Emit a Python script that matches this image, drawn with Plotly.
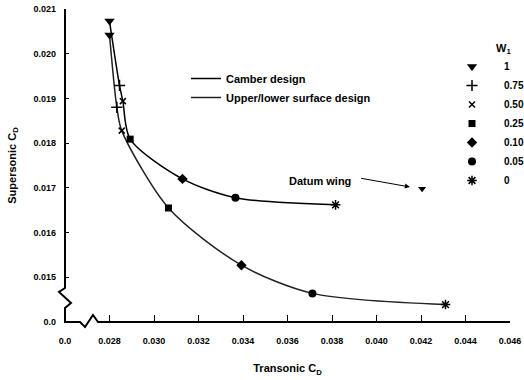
import plotly.graph_objects as go

# ---- data ----
w_labels = ["1", "0.75", "0.50", "0.25", "0.10", "0.05", "0"]
w_symbols = ["triangle-down", "cross-thin", "x-thin", "square", "diamond", "circle", "asterisk"]
w_sizes = [9, 8, 6, 7, 8, 8, 8]

camber_x = [0.02800, 0.02845, 0.02860, 0.02893, 0.03128, 0.03366, 0.03816]
camber_y = [0.02073, 0.01929, 0.01894, 0.01809, 0.01720, 0.01678, 0.01662]

surface_x = [0.02800, 0.02833, 0.02855, 0.03065, 0.03393, 0.03712, 0.04310]
surface_y = [0.02042, 0.01880, 0.01828, 0.01655, 0.01527, 0.01464, 0.01439]

datum_x = [0.04205]
datum_y = [0.01698]

x_tickvals = [0.026, 0.028, 0.030, 0.032, 0.034, 0.036, 0.038, 0.040, 0.042, 0.044, 0.046]
x_ticktext = ["0.0", "0.028", "0.030", "0.032", "0.034", "0.036", "0.038", "0.040", "0.042", "0.044", "0.046"]
y_tickvals = [0.014, 0.015, 0.016, 0.017, 0.018, 0.019, 0.020, 0.021]
y_ticktext = ["0.0", "0.015", "0.016", "0.017", "0.018", "0.019", "0.020", "0.021"]

# ---- layout geometry ----
W, H = 524, 380
ML, MR, MT, MB = 65, 14, 9, 58
PW, PH = W - ML - MR, H - MT - MB

def px(x):
    return (x - ML) / PW

def py(y):
    return (H - MB - y) / PH

FONT = "Liberation Sans, Arial, sans-serif"

fig = go.Figure()

fig.add_trace(go.Scatter(
    x=camber_x, y=camber_y, mode="lines", name="Camber design",
    line=dict(color="black", width=1.5, shape="spline", smoothing=0.8),
    legend="legend",
))
fig.add_trace(go.Scatter(
    x=surface_x, y=surface_y, mode="lines", name="Upper/lower surface design",
    line=dict(color="#222", width=1.5, shape="spline", smoothing=0.8),
    legend="legend",
))

for i, lab in enumerate(w_labels):
    thin = w_symbols[i] in ("cross-thin", "x-thin", "asterisk")
    fig.add_trace(go.Scatter(
        x=[camber_x[i], surface_x[i]], y=[camber_y[i], surface_y[i]],
        mode="markers", name=lab, legend="legend2",
        marker=dict(symbol=w_symbols[i], size=w_sizes[i], color="black",
                    line=dict(color="black", width=1.5 if thin else 0)),
    ))

fig.add_trace(go.Scatter(
    x=datum_x, y=datum_y, mode="markers", showlegend=False,
    marker=dict(symbol="triangle-down", size=7, color="black"),
))

# axis lines with break marks (decoration)
pts = [(65, 9), (65, 288), (59, 292), (71, 303), (65, 308), (65, 322),
       (80, 322), (85, 327), (93, 315), (98, 322), (510, 322)]
path = "M " + " L ".join(f"{px(a):.5f},{py(b):.5f}" for a, b in pts)
fig.add_shape(type="path", path=path, xref="paper", yref="paper",
              line=dict(color="black", width=2))

fig.add_annotation(
    x=0.04150, y=0.01702, ax=0.03924, ay=0.01722, axref="x", ayref="y",
    xref="x", yref="y", text="", showarrow=True, arrowhead=2, arrowsize=1,
    arrowwidth=1, arrowcolor="black")
fig.add_annotation(
    x=0.03744, y=0.01716, xref="x", yref="y", text="Datum wing", showarrow=False,
    font=dict(family=FONT, size=11, color="black", weight="bold"))

# title of the W1 marker legend
fig.add_annotation(
    x=px(503), y=py(49), xref="paper", yref="paper", text="W<sub>1</sub>",
    showarrow=False, xanchor="center", yanchor="middle",
    font=dict(family=FONT, size=11, color="black", weight="bold"))

fig.update_layout(
    width=W, height=H, margin=dict(l=ML, r=MR, t=MT, b=MB, autoexpand=False),
    paper_bgcolor="white", plot_bgcolor="white",
    font=dict(family=FONT, color="black"),
    legend=dict(x=px(186), y=py(64), xanchor="left", yanchor="top",
                font=dict(family=FONT, size=11, weight="bold"),
                bgcolor="rgba(0,0,0,0)", itemwidth=30, tracegroupgap=0),
    legend2=dict(x=px(440), y=py(52), xanchor="left", yanchor="top",
                 font=dict(family=FONT, size=10, weight="bold"),
                 bgcolor="rgba(0,0,0,0)", itemwidth=54, tracegroupgap=0),
    xaxis=dict(range=[0.026, 0.046], tickvals=x_tickvals, ticktext=x_ticktext,
               showgrid=False, zeroline=False, showline=False, automargin=False,
               ticks="inside", ticklen=7, tickwidth=1, tickcolor="black",
               tickfont=dict(family=FONT, size=9, weight="bold"),
               ticklabelstandoff=12,
               title=dict(text="Transonic C<sub>D</sub>", standoff=19,
                          font=dict(family=FONT, size=11, weight="bold"))),
    yaxis=dict(range=[0.014, 0.021], tickvals=y_tickvals, ticktext=y_ticktext,
               showgrid=False, zeroline=False, showline=False, automargin=False,
               ticks="inside", ticklen=4, tickwidth=1, tickcolor="black",
               tickfont=dict(family=FONT, size=9, weight="bold"),
               ticklabelstandoff=8,
               title=dict(text="Supersonic C<sub>D</sub>", standoff=14,
                          font=dict(family=FONT, size=11, weight="bold"))),
)

fig.write_html("out.html")
